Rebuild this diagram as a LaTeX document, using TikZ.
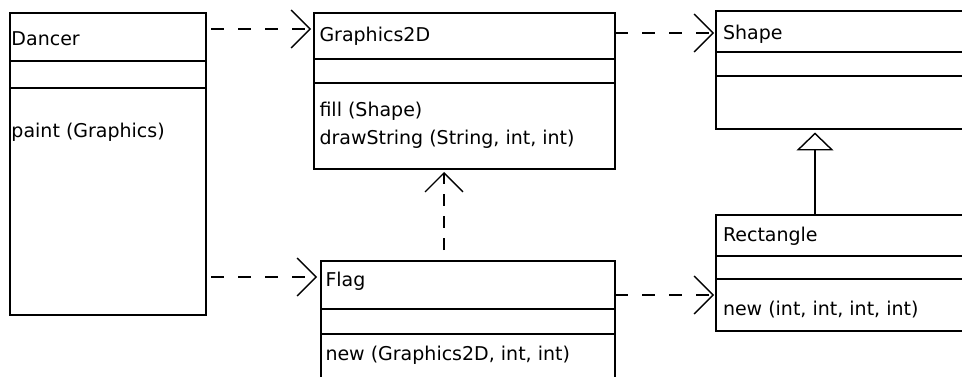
\documentclass[tikz,border=0pt]{standalone}
\usepackage{fontspec}
\setmainfont{DejaVu Sans}
\usetikzlibrary{arrows.meta}
\begin{document}
\begin{tikzpicture}[x=1pt,y=-1pt,
  cls/.style={draw, line width=1.7pt, anchor=north west, inner sep=0pt, outer sep=0pt},
  lbl/.style={anchor=base west, inner sep=0pt, outer sep=0pt, font=\fontsize{19}{22}\selectfont},
  sep/.style={line width=1.7pt},
  dep/.style={line width=1.6pt, dash pattern=on 13pt off 14pt,
    -{Straight Barb[length=19pt,width=38pt,line width=1.4pt]}},
  gen/.style={line width=1.6pt,
    -{Triangle[open,length=18pt,width=37pt,line width=1.4pt]}}]
\useasboundingbox (0,0) rectangle (962,377);
\fill[white] (0,0) rectangle (962,377);
\clip (0,0) rectangle (962,377);

% classes
\node[cls, minimum width=196pt, minimum height=302pt] (dancer) at (10,13) {};
\draw[sep] (dancer.west |- 0,61) -- (dancer.east |- 0,61);
\draw[sep] (dancer.west |- 0,88) -- (dancer.east |- 0,88);
\node[lbl] (dancerT) at (11.5,46) {Dancer};
\node[lbl] (dancerM) at (11.5,138) {paint (Graphics)};

\node[cls, minimum width=301pt, minimum height=156pt] (g2d) at (314,13) {};
\draw[sep] (g2d.west |- 0,59) -- (g2d.east |- 0,59);
\draw[sep] (g2d.west |- 0,83) -- (g2d.east |- 0,83);
\node[lbl] (g2dT) at (319.5,41.7) {Graphics2D};
\node[lbl] (g2dM1) at (319.5,116.7) {fill (Shape)};
\node[lbl] (g2dM2) at (319.5,144.3) {drawString (String, int, int)};

\node[cls, minimum width=294pt, minimum height=160pt] (flag) at (321,261) {};
\draw[sep] (flag.west |- 0,309) -- (flag.east |- 0,309);
\draw[sep] (flag.west |- 0,334) -- (flag.east |- 0,334);
\node[lbl] (flagT) at (325.5,286) {Flag};
\node[lbl] (flagM) at (325.5,360.7) {new (Graphics2D, int, int)};

\node[cls, minimum width=300pt, minimum height=118pt] (shape) at (716,11) {};
\draw[sep] (shape.west |- 0,52) -- (shape.east |- 0,52);
\draw[sep] (shape.west |- 0,76) -- (shape.east |- 0,76);
\node[lbl] (shapeT) at (723,40) {Shape};

\node[cls, minimum width=300pt, minimum height=116pt] (rect) at (716,215) {};
\draw[sep] (rect.west |- 0,256) -- (rect.east |- 0,256);
\draw[sep] (rect.west |- 0,279) -- (rect.east |- 0,279);
\node[lbl] (rectT) at (723,241.7) {Rectangle};
\node[lbl] (rectM) at (723,315) {new (int, int, int, int)};

% connectors
\draw[dep, shorten <=5pt, shorten >=3pt] (dancer.east |- 0,29) -- (g2d.west |- 0,29);
\draw[dep, shorten <=5pt, shorten >=4pt] (dancer.east |- 0,277) -- (flag.west |- 0,277);
\draw[dep, shorten >=2pt] (g2d.east |- 0,33) -- (shape.west |- 0,33);
\draw[dep, shorten >=2pt] (flag.east |- 0,295) -- (rect.west |- 0,295);
\draw[dep, dash pattern=on 12pt off 10pt, shorten <=11pt, shorten >=3pt]
  (444,0 |- flag.north) -- (444,0 |- g2d.south);
\draw[gen, shorten >=3.5pt] (815,0 |- rect.north) -- (815,0 |- shape.south);
\end{tikzpicture}
\end{document}
